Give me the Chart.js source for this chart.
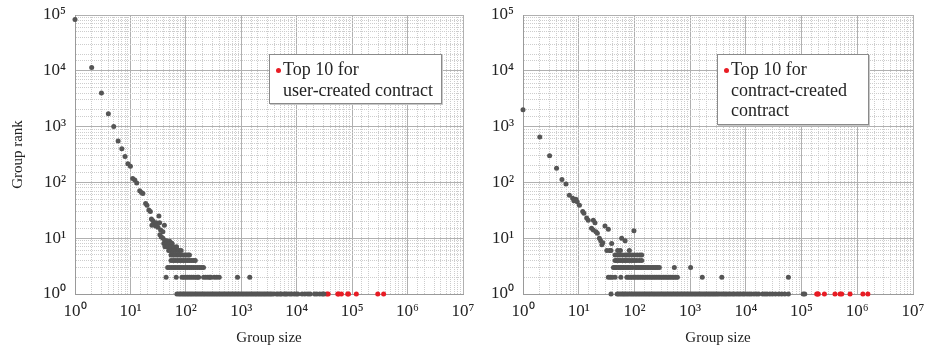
<!DOCTYPE html>
<html>
<head>
<meta charset="utf-8">
<script src="https://cdn.jsdelivr.net/npm/chart.js@4"></script>
<style>
  body { margin: 0; background: #fff; }
  #wrap { position: relative; width: 933px; height: 348px; }
  canvas { position: absolute; top: 0; }
  #c1 { left: 0; }
  #c2 { left: 470px; }
  .legend {
    position: absolute; background: #fff; border: 1px solid #8a8a8a;
    box-shadow: 1px 1px 0 #c8c8c8;
    font-family: "Liberation Serif", "Times New Roman", serif; font-size: 18px;
    line-height: 20.5px; color: #222; box-sizing: border-box; padding: 4px 0 0 13px;
  }
  .legend .dot {
    position: absolute; left: 6px; top: 13px; width: 5px; height: 5px;
    border-radius: 50%; background: rgb(232, 28, 36);
  }
</style>
</head>
<body>
<div id="wrap">
  <canvas id="c1" width="490" height="348"></canvas>
  <canvas id="c2" width="463" height="348"></canvas>
  <div class="legend" style="left:269px;top:54px;width:173px;height:50px;">
    <span class="dot"></span>Top 10 for<br>user-created contract
  </div>
  <div class="legend" style="left:717px;top:54px;width:152px;height:71px;">
    <span class="dot"></span>Top 10 for<br>contract-created<br>contract
  </div>
</div>
<script>
// 軸ラベル (10のべき乗)
const tickLabels = ['10⁰', '10¹', '10²', '10³', '10⁴', '10⁵', '10⁶', '10⁷'];

// --- 左: user-created contract ---
const userCurveSize = [1, 2, 3, 4, 5, 6, 7, 8, 9, 10, 11, 12, 13, 14.7, 15.8, 16.8, 18.8, 19.9, 21.5, 22.9, 23.9, 25.5, 27.3, 29.2, 24.4, 28.5, 32.6, 33.6, 31.4, 35, 38.5, 41, 34, 36, 38.7, 41.6, 44.7, 48, 51, 56];
const userCurveRank = [83000, 11500, 4000, 1700, 1000, 550, 400, 290, 215, 195, 118, 110, 98, 71, 66, 63, 42, 39, 32, 30, 22, 20.5, 18.5, 19, 17, 16.5, 25, 19, 15.7, 14, 13, 17, 11.5, 10.5, 10, 9, 9, 8.5, 8.8, 8];
const userRank8 = [40, 45, 50, 56];
const userRank7 = [42, 47, 53, 60, 68];
const userRank6 = [49, 53, 57, 61, 66, 71, 76, 82];
const userRank5 = [54, 58, 63, 68, 74, 80, 87, 94, 102, 110, 116];
const userRank4 = [54, 59, 64, 70, 76, 83, 90, 98, 107, 116, 126, 137, 148];
const userRank3 = [47, 51, 56, 61, 66, 72, 78, 85, 92, 100, 108, 117, 127, 138, 150, 163, 177, 192, 208];
const userRank2 = [44, 67, 85, 92, 100, 108, 117, 127, 138, 150, 162, 170, 209, 228, 250, 270, 283, 325, 360, 400, 855, 1420];
const userRank1 = [69, 75, 80, 86, 92, 98, 105, 112, 120, 128, 137, 147, 157, 168, 180, 193, 206, 220, 236, 252, 270, 289, 309, 330, 353, 378, 404, 432, 462, 494, 529, 566, 605, 647, 692, 740, 792, 847, 906, 969, 1040, 1110, 1190, 1270, 1360, 1460, 1560, 1670, 1790, 1910, 2050, 2190, 2340, 2510, 2680, 2870, 3070, 3300, 3500, 3800, 4300, 4600, 5000, 5300, 5900, 6300, 6700, 7500, 8100, 9000, 9800, 10500, 12500, 14000, 16000, 17500, 21000, 23000, 26000, 29000, 31000];
const userTop10 = [35000, 37000, 55000, 57000, 64000, 83000, 86000, 119000, 290000, 370000];

// --- 右: contract-created contract ---
const contractCurveSize = [1, 2, 3, 4, 5, 5.9, 6.8, 7.8, 8.2, 8.9, 9.4, 10.3, 11.8, 12.4, 13.9, 14.8, 18.3, 19.6, 17, 18.3, 20.4, 21.6, 29.6, 34, 23.5, 24.8, 27, 26, 39, 59, 68, 98];
const contractCurveRank = [2000, 650, 300, 180, 113, 94, 59, 52, 47, 50, 45, 39, 30, 28, 23, 21, 21, 19, 15, 14, 13, 12.3, 16.5, 14.5, 10, 9, 8.3, 7.6, 8, 10, 9, 13.6];
const contractRank6 = [32, 36, 38, 50, 56, 81];
const contractRank5 = [45, 50, 55, 61, 68, 73, 80, 90, 100, 112, 125, 135];
const contractRank4 = [45, 48, 52, 56, 61, 66, 71, 77, 84, 92, 100, 110, 122, 135];
const contractRank3 = [42, 45, 48, 52, 56, 60, 64, 69, 74, 79, 85, 92, 103, 110, 118, 127, 136, 146, 157, 169, 181, 195, 210, 225, 242, 260, 280, 520, 1020];
const contractRank2 = [34, 37, 40, 45, 57, 73, 78, 84, 90, 97, 104, 112, 120, 129, 139, 149, 160, 172, 185, 199, 214, 230, 247, 266, 286, 307, 330, 355, 382, 410, 440, 475, 510, 550, 590, 1650, 3700, 58000];
const contractRank1 = [38, 49, 52, 56, 60, 64, 68, 73, 78, 84, 90, 96, 103, 110, 118, 126, 135, 145, 155, 166, 178, 190, 204, 218, 233, 250, 267, 286, 306, 328, 351, 375, 402, 430, 460, 492, 527, 564, 603, 646, 691, 739, 791, 846, 906, 969, 1040, 1110, 1190, 1270, 1360, 1460, 1560, 1670, 1790, 1910, 2050, 2190, 2340, 2510, 2680, 2870, 3070, 3300, 3600, 3900, 4200, 4500, 4900, 5300, 5800, 6200, 6800, 7400, 8000, 8800, 9500, 10500, 11500, 12500, 14000, 15500, 17000, 20000, 22000, 24000, 27000, 30000, 34000, 39000, 44000, 50000, 58000, 107000, 114000];
const contractTop10 = [187000, 193000, 200000, 257000, 398000, 490000, 525000, 741000, 1260000, 1550000];

const GRAY = '#555555';
const RED = 'rgb(232, 28, 36)';
const FONT = '"Liberation Serif", "Times New Roman", serif';

const pairs = (xs, ys) => xs.map((x, i) => ({ x: x, y: ys[i] }));
const row = (xs, rank) => xs.map(x => ({ x: x, y: rank }));

function isMajor(ctx) {
    if (!ctx.tick) return true;
    const e = Math.log10(ctx.tick.value);
    return Math.abs(e - Math.round(e)) < 1e-6;
}
function powLabel(value) {
    const e = Math.log10(value);
    const r = Math.round(e);
    return Math.abs(e - r) < 1e-6 ? tickLabels[r] : '';
}
const gridColor = ctx => isMajor(ctx) ? '#b0b0b0' : '#cdcdcd';
const gridDash = ctx => isMajor(ctx) ? [] : [1, 1];

function makeChart(id, grayPoints, redSizes, yWidth, padRight, yTitle) {
    const ctx = document.getElementById(id).getContext('2d');
    return new Chart(ctx, {
        type: 'scatter',
        data: {
            datasets: [{
                data: grayPoints,
                backgroundColor: GRAY, borderColor: GRAY, borderWidth: 0,
                pointRadius: 2.5, clip: false
            }, {
                data: row(redSizes, 1),
                backgroundColor: RED, borderColor: RED, borderWidth: 0,
                pointRadius: 2.5, clip: false
            }]
        },
        options: {
            responsive: false,
            animation: false,
            layout: { padding: { top: 15, right: padRight, bottom: 0, left: 0 } },
            plugins: { legend: { display: false }, tooltip: { enabled: false } },
            scales: {
                x: {
                    type: 'logarithmic', min: 1, max: 1e7,
                    afterFit: s => { s.height = 54; },
                    grid: { color: gridColor, drawTicks: false },
                    border: { color: '#9a9a9a', dash: gridDash },
                    ticks: { autoSkip: false, maxRotation: 0, padding: 7, color: '#222',
                             font: { family: FONT, size: 17 }, callback: powLabel },
                    title: { display: true, text: 'Group size', color: '#222',
                             font: { family: FONT, size: 15 }, padding: { top: 4, bottom: 1 } }
                },
                y: {
                    type: 'logarithmic', min: 1, max: 1e5,
                    afterFit: s => { s.width = yWidth; s.paddingTop = 0; s.paddingBottom = 0; },
                    grid: { color: gridColor, drawTicks: false },
                    border: { color: '#9a9a9a', dash: gridDash },
                    ticks: { autoSkip: false, padding: 9, color: '#222',
                             font: { family: FONT, size: 17 }, callback: powLabel },
                    title: { display: !!yTitle, text: yTitle || '', color: '#222',
                             font: { family: FONT, size: 15 }, padding: { top: 9, bottom: 4 } }
                }
            }
        }
    });
}

const userPoints = [].concat(
    pairs(userCurveSize, userCurveRank),
    row(userRank8, 8), row(userRank7, 7), row(userRank6, 6), row(userRank5, 5),
    row(userRank4, 4), row(userRank3, 3), row(userRank2, 2), row(userRank1, 1)
);
const contractPoints = [].concat(
    pairs(contractCurveSize, contractCurveRank),
    row(contractRank6, 6), row(contractRank5, 5), row(contractRank4, 4),
    row(contractRank3, 3), row(contractRank2, 2), row(contractRank1, 1)
);

makeChart('c1', userPoints, userTop10, 75, 27, 'Group rank');
makeChart('c2', contractPoints, contractTop10, 53, 20, null);
</script>
</body>
</html>
